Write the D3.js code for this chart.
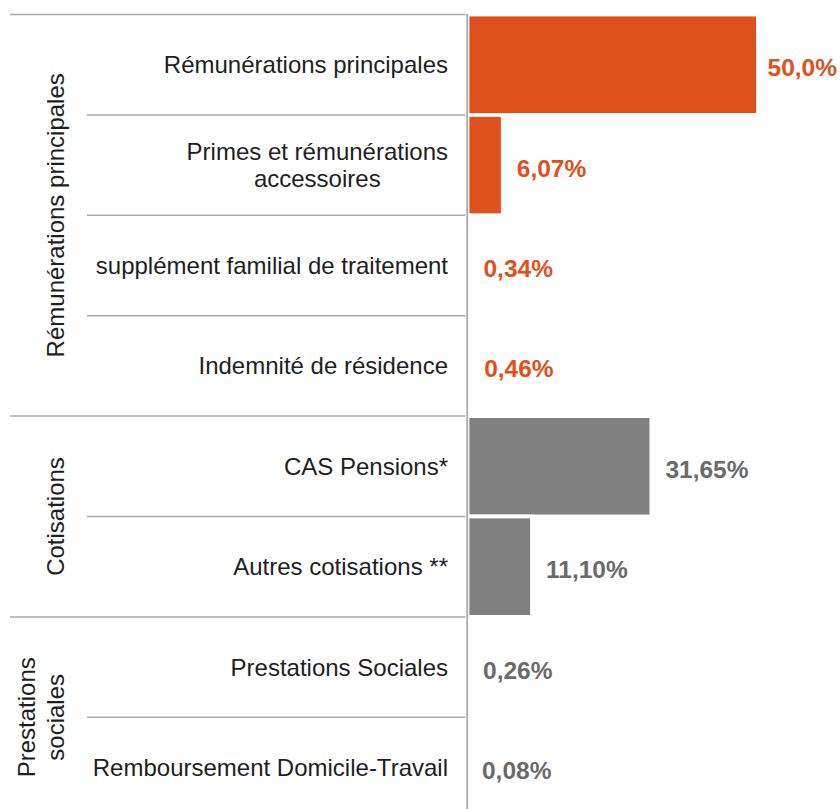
<!DOCTYPE html>
<html><head><meta charset="utf-8">
<script src="https://cdn.jsdelivr.net/npm/d3@7"></script>
<style>body{margin:0;background:#fff}</style>
</head><body><svg id="c" width="840" height="809"></svg>
<script>
const categories = ["Rémunérations principales", "Primes et rémunérations\naccessoires", "supplément familial de traitement", "Indemnité de résidence", "CAS Pensions*", "Autres cotisations **", "Prestations Sociales", "Remboursement Domicile-Travail"];
const values = [50.0, 6.07, 0.34, 0.46, 31.65, 11.10, 0.26, 0.08];
const valueLabels = ["50,0%", "6,07%", "0,34%", "0,46%", "31,65%", "11,10%", "0,26%", "0,08%"];
const groups = ["Rémunérations principales", "Cotisations", "Prestations\nsociales"];
const groupOf = [0, 0, 0, 0, 1, 1, 2, 2];
const barColors = ["#E0501C", "#808080", "#808080"];
const textColors = ["#E0501C", "#6a6a6a", "#6a6a6a"];

(function () {
const svg = d3.select("#c");
const font = "'Liberation Sans', Arial, sans-serif";
const plotTop = 14.5, plotBottom = 817.7;
const axisX = 467.2;

const y = d3.scaleBand().domain(categories).range([plotTop, plotBottom]).padding(0);
const x = d3.scaleLinear().domain([0, 50]).range([467.5, 758]);

const lineColor = "#a8a8a8";

// separators
const bounds = categories.map((c, i) => ({ y: y(c), groupStart: i === 0 || groupOf[i] !== groupOf[i - 1] }));
bounds.push({ y: plotBottom, groupStart: true });
svg.append("g").selectAll("line").data(bounds).join("line")
  .attr("x1", d => d.groupStart ? 10 : 87).attr("x2", axisX)
  .attr("y1", d => d.y).attr("y2", d => d.y)
  .attr("stroke", lineColor).attr("stroke-width", 1.5);

// bars (white border as in the original)
svg.append("g").selectAll("rect").data(categories).join("rect")
  .attr("x", x(0)).attr("y", c => y(c))
  .attr("width", (c, i) => x(values[i]) - x(0))
  .attr("height", y.bandwidth())
  .attr("fill", (c, i) => barColors[groupOf[i]])
  .attr("stroke", "#fff").attr("stroke-width", 3.8);

// vertical axis
svg.append("line").attr("x1", axisX).attr("x2", axisX).attr("y1", plotTop - 0.75).attr("y2", plotBottom + 10)
  .attr("stroke", lineColor).attr("stroke-width", 1.8);

// value labels
svg.append("g").selectAll("text").data(categories).join("text")
  .attr("y", c => y(c) + y.bandwidth() / 2)
  .attr("dy", "0.47em")
  .attr("font-family", font).attr("font-size", "24.5px").attr("font-weight", "bold")
  .attr("fill", (c, i) => textColors[groupOf[i]])
  .text((c, i) => valueLabels[i])
  .attr("x", function (c, i) {
    const w = this.getComputedTextLength();
    return Math.min(x(values[i]) + 14, 837 - w);
  });

// category labels
const labelRight = 448;
categories.forEach(c => {
  const lines = c.split("\n");
  const cy = y(c) + y.bandwidth() / 2;
  const t = svg.append("text").attr("font-family", font).attr("font-size", "24px").attr("fill", "#1e1e1e");
  const lh = 27;
  const spans = lines.map((l, k) => t.append("tspan").text(l)
    .attr("y", cy + (k - (lines.length - 1) / 2) * lh).attr("dy", "0.35em"));
  if (lines.length === 1) {
    t.attr("text-anchor", "end");
    spans[0].attr("x", labelRight);
  } else {
    const w = d3.max(spans, s => s.node().getComputedTextLength());
    t.attr("text-anchor", "middle");
    spans.forEach(s => s.attr("x", labelRight - w / 2));
  }
});

// group labels
groups.forEach((g, gi) => {
  const idx = categories.filter((c, i) => groupOf[i] === gi);
  const y0 = y(idx[0]);
  const y1 = y(idx[idx.length - 1]) + y.step();
  const cy = (y0 + y1) / 2;
  const lines = g.split("\n");
  const t = svg.append("text")
    .attr("transform", `translate(63.5,${cy}) rotate(-90)`)
    .attr("text-anchor", "middle")
    .attr("font-family", font).attr("font-size", "24px").attr("fill", "#1e1e1e");
  lines.forEach((l, k) => t.append("tspan").attr("x", 0).attr("y", (k - (lines.length - 1)) * 29).text(l));
});
})();
</script>
</body></html>
